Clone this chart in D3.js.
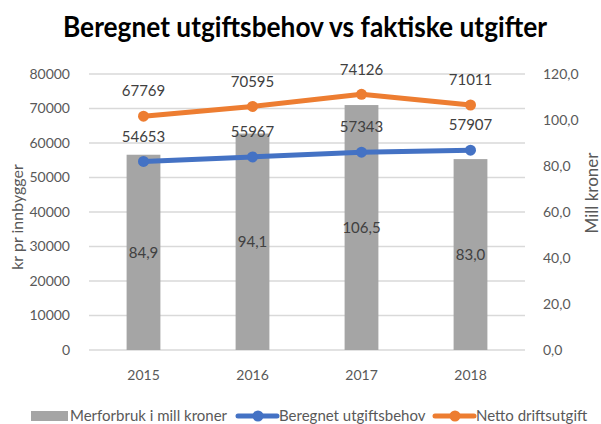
<!DOCTYPE html>
<html>
<head>
<meta charset="utf-8">
<script src="https://d3js.org/d3.v7.min.js"></script>
<style>
  body { margin: 0; background: #fff; }
  svg { display: block; }
  text { font-family: Lato, "Open Sans", sans-serif; }
</style>
</head>
<body>
<svg id="chart" width="601" height="424"></svg>
<script>
  // chart data
  const years = ["2015", "2016", "2017", "2018"];
  const merforbruk = [84.9, 94.1, 106.5, 83.0];          // mill kroner, right axis
  const beregnet = [54653, 55967, 57343, 57907];          // kr pr innbygger
  const netto = [67769, 70595, 74126, 71011];             // kr pr innbygger
  const leftTicks = [0, 10000, 20000, 30000, 40000, 50000, 60000, 70000, 80000];
  const rightTicks = [0, 20, 40, 60, 80, 100, 120];

  const svg = d3.select("#chart");
  const plotLeft = 89, plotRight = 525, plotTop = 74, plotBottom = 350;
  const grey = "#a5a5a5", blue = "#4472c4", orange = "#ed7d31";
  const comma = v => d3.format(".1f")(v).replace(".", ",");

  const x = d3.scaleBand().domain(years).range([plotLeft, plotRight])
      .paddingInner(0.69).paddingOuter(0.345);
  const yL = d3.scaleLinear().domain([0, 80000]).range([plotBottom, plotTop]);
  const yR = d3.scaleLinear().domain([0, 120]).range([plotBottom, plotTop]);

  // title
  svg.append("text")
      .attr("x", 63).attr("y", 37)
      .attr("textLength", 484).attr("lengthAdjust", "spacingAndGlyphs")
      .style("font-size", "28px").style("font-weight", "bold")
      .attr("fill", "#000")
      .text("Beregnet utgiftsbehov vs faktiske utgifter");

  // gridlines
  svg.append("g").selectAll("line").data(leftTicks).enter().append("line")
      .attr("x1", plotLeft).attr("x2", plotRight)
      .attr("y1", d => yL(d)).attr("y2", d => yL(d))
      .attr("stroke", "#d9d9d9").attr("stroke-width", 1.3);

  // left axis
  const axL = svg.append("g").attr("transform", `translate(${plotLeft - 16},0)`)
      .call(d3.axisLeft(yL).tickValues(leftTicks).tickSize(0).tickFormat(d3.format("d")));
  axL.select(".domain").remove();
  axL.selectAll("text").attr("fill", "#595959").style("font-size", "14px");

  // right axis
  const axR = svg.append("g").attr("transform", `translate(${plotRight + 15},0)`)
      .call(d3.axisRight(yR).tickValues(rightTicks).tickSize(0).tickFormat(comma));
  axR.select(".domain").remove();
  axR.selectAll("text").attr("fill", "#595959").style("font-size", "14px");

  // x axis
  const axX = svg.append("g").attr("transform", `translate(0,${plotBottom + 17})`)
      .call(d3.axisBottom(x).tickSize(0));
  axX.select(".domain").remove();
  axX.selectAll("text").attr("fill", "#595959").style("font-size", "14px");

  // axis titles
  svg.append("text")
      .attr("transform", `translate(23,217) rotate(-90)`)
      .attr("text-anchor", "middle").attr("fill", "#595959")
      .style("font-size", "16px").text("kr pr innbygger");
  svg.append("text")
      .attr("transform", `translate(598,193) rotate(-90)`)
      .attr("text-anchor", "middle").attr("fill", "#595959")
      .style("font-size", "17px").text("Mill kroner");

  // bars
  svg.append("g").selectAll("rect").data(merforbruk).enter().append("rect")
      .attr("x", (d, i) => x(years[i]))
      .attr("width", x.bandwidth())
      .attr("y", d => yR(d))
      .attr("height", d => plotBottom - yR(d))
      .attr("fill", grey);

  svg.append("g").selectAll("text").data(merforbruk).enter().append("text")
      .attr("x", (d, i) => x(years[i]) + x.bandwidth() / 2)
      .attr("y", d => (yR(d) + plotBottom) / 2)
      .attr("dy", "0.35em")
      .attr("text-anchor", "middle").attr("fill", "#404040")
      .style("font-size", "15px")
      .text(d => comma(d));

  // lines
  const cx = i => x(years[i]) + x.bandwidth() / 2;
  function drawSeries(values, color) {
      const line = d3.line().x((d, i) => cx(i)).y(d => yL(d));
      svg.append("path").datum(values)
          .attr("d", line).attr("fill", "none")
          .attr("stroke", color).attr("stroke-width", 5)
          .attr("stroke-linejoin", "round").attr("stroke-linecap", "round");
      svg.append("g").selectAll("circle").data(values).enter().append("circle")
          .attr("cx", (d, i) => cx(i)).attr("cy", d => yL(d))
          .attr("r", 5.5).attr("fill", color);
      svg.append("g").selectAll("text").data(values).enter().append("text")
          .attr("x", (d, i) => cx(i)).attr("y", d => yL(d) - 25)
          .attr("dy", "0.35em")
          .attr("text-anchor", "middle").attr("fill", "#404040")
          .style("font-size", "15px")
          .text(d => d);
  }
  drawSeries(beregnet, blue);
  drawSeries(netto, orange);

  // legend
  const ly = 416;
  const legend = svg.append("g");
  legend.append("rect").attr("x", 31).attr("y", ly - 5).attr("width", 37).attr("height", 10).attr("fill", grey);
  legend.append("text").attr("x", 70).attr("y", ly).attr("dy", "0.35em")
      .attr("fill", "#595959").style("font-size", "15px").text("Merforbruk i mill kroner");
  [[238, blue, "Beregnet utgiftsbehov"], [435, orange, "Netto driftsutgift"]].forEach(function (e) {
      legend.append("line").attr("x1", e[0]).attr("x2", e[0] + 39)
          .attr("y1", ly).attr("y2", ly)
          .attr("stroke", e[1]).attr("stroke-width", 5).attr("stroke-linecap", "round");
      legend.append("circle").attr("cx", e[0] + 20).attr("cy", ly).attr("r", 5.5).attr("fill", e[1]);
      legend.append("text").attr("x", e[0] + 41).attr("y", ly).attr("dy", "0.35em")
          .attr("fill", "#595959").style("font-size", "15px").text(e[2]);
  });
</script>
</body>
</html>
